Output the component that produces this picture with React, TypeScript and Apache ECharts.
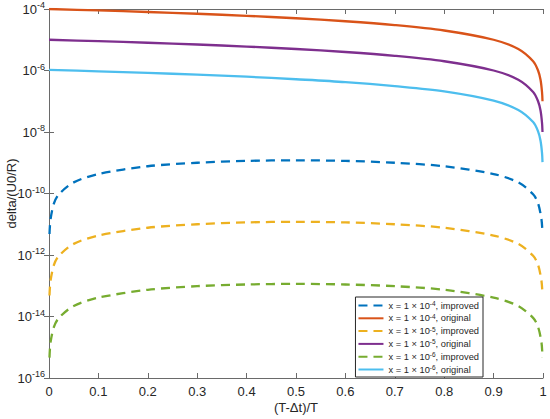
import React, { useEffect, useRef } from "react";
import * as echarts from "echarts";

// t = (T-Δt)/T sample points
const tImproved = [0.001, 0.003, 0.01, 0.02, 0.05, 0.1, 0.2, 0.3, 0.4, 0.5, 0.6, 0.7, 0.8, 0.9, 0.95, 0.98, 0.99, 0.997, 0.999];
const imp4 = [4.8e-12, 1.4e-11, 4.8e-11, 9.4e-11, 2.3e-10, 4.3e-10, 7.7e-10, 1.0e-9, 1.15e-9, 1.2e-9, 1.15e-9, 1.0e-9, 7.7e-10, 4.3e-10, 2.3e-10, 9.4e-11, 4.8e-11, 1.4e-11, 4.8e-12];
const imp5 = [4.8e-14, 1.4e-13, 4.8e-13, 9.4e-13, 2.3e-12, 4.3e-12, 7.7e-12, 1.0e-11, 1.15e-11, 1.2e-11, 1.15e-11, 1.0e-11, 7.7e-12, 4.3e-12, 2.3e-12, 9.4e-13, 4.8e-13, 1.4e-13, 4.8e-14];
const imp6 = [4.6e-16, 1.4e-15, 4.6e-15, 9.0e-15, 2.2e-14, 4.1e-14, 7.4e-14, 9.7e-14, 1.1e-13, 1.15e-13, 1.1e-13, 9.7e-14, 7.4e-14, 4.1e-14, 2.2e-14, 9.0e-15, 4.6e-15, 1.4e-15, 4.6e-16];

const tOriginal = [0, 0.1, 0.2, 0.3, 0.4, 0.5, 0.6, 0.7, 0.8, 0.9, 0.95, 0.98, 0.99, 0.995, 0.998, 0.999];
const orig4 = [1e-4, 9e-5, 8e-5, 7e-5, 6e-5, 5e-5, 4e-5, 3e-5, 2e-5, 1e-5, 5e-6, 2e-6, 1e-6, 5e-7, 2e-7, 1e-7];
const orig5 = [1e-5, 9e-6, 8e-6, 7e-6, 6e-6, 5e-6, 4e-6, 3e-6, 2e-6, 1e-6, 5e-7, 2e-7, 1e-7, 5e-8, 2e-8, 1e-8];
const orig6 = [1.05e-6, 9.4e-7, 8.4e-7, 7.3e-7, 6.3e-7, 5.2e-7, 4.2e-7, 3.1e-7, 2.1e-7, 1.05e-7, 5.2e-8, 2.1e-8, 1.05e-8, 5.2e-9, 2.1e-9, 1.05e-9];

const xTicks = [0, 0.1, 0.2, 0.3, 0.4, 0.5, 0.6, 0.7, 0.8, 0.9, 1];
const yMin = 1e-16;
const yMax = 1e-4;

const seriesNames = [
  "x = 1 × 10^-4, improved",
  "x = 1 × 10^-4, original",
  "x = 1 × 10^-5, improved",
  "x = 1 × 10^-5, original",
  "x = 1 × 10^-6, improved",
  "x = 1 × 10^-6, original",
];
const colors = ["#0072BD", "#D95319", "#EDB120", "#7E2F8E", "#77AC30", "#4DBEEE"];

const FONT = "'Liberation Sans', Arial, sans-serif";
const TXT = "#262626";
const AX = "#6a6a6a";

function zip(xs: number[], ys: number[]) {
  return xs.map((x, i) => [x, ys[i]]);
}

export default function App() {
  const ref = useRef<HTMLDivElement>(null);
  useEffect(() => {
    if (!ref.current) return;
    const chart = echarts.init(ref.current, undefined, { renderer: "svg" });
    const datasets = [
      zip(tImproved, imp4),
      zip(tOriginal, orig4),
      zip(tImproved, imp5),
      zip(tOriginal, orig5),
      zip(tImproved, imp6),
      zip(tOriginal, orig6),
    ];
    const yLabelFmt = (v: number) => {
      const e = Math.round(Math.log10(v));
      return "{b|10}{s|" + e + "}";
    };
    const tickStyle = { inside: true, length: 5, lineStyle: { color: AX, width: 1 } };
    chart.setOption({
      animation: false,
      backgroundColor: "#ffffff",
      grid: {
        left: 49,
        right: 7,
        top: 9,
        bottom: 41,
        containLabel: false,
        outerBoundsMode: "none",
      },
      xAxis: [
        {
          type: "value",
          min: 0,
          max: 1,
          interval: 0.1,
          name: "(T-Δt)/T",
          nameLocation: "middle",
          nameGap: 23,
          nameMoveOverlap: false,
          nameTextStyle: { fontFamily: FONT, fontSize: 13, color: TXT },
          axisLine: { lineStyle: { color: AX, width: 1 } },
          axisTick: tickStyle,
          splitLine: { show: false },
          axisLabel: {
            margin: 7,
            fontFamily: FONT,
            fontSize: 13,
            color: TXT,
            formatter: (v: number) => {
              const m = xTicks.find((t) => Math.abs(t - v) < 1e-9);
              return m === undefined ? "" : String(m);
            },
          },
        },
        {
          type: "value",
          min: 0,
          max: 1,
          interval: 0.1,
          position: "top",
          axisLine: { show: true, onZero: false, lineStyle: { color: AX, width: 1 } },
          axisTick: tickStyle,
          axisLabel: { show: false },
          splitLine: { show: false },
        },
      ],
      yAxis: [
        {
          type: "log",
          logBase: 100,
          min: yMin,
          max: yMax,
          splitNumber: 6,
          name: "delta/(U0/R)",
          nameLocation: "middle",
          nameGap: 31,
          nameMoveOverlap: false,
          nameTextStyle: { fontFamily: FONT, fontSize: 13, color: TXT },
          axisLine: { show: true, lineStyle: { color: AX, width: 1 } },
          axisTick: tickStyle,
          splitLine: { show: false },
          minorTick: { show: false },
          axisLabel: {
            margin: 4,
            fontFamily: FONT,
            color: TXT,
            formatter: yLabelFmt,
            rich: {
              b: { fontFamily: FONT, fontSize: 13, color: TXT },
              s: { fontFamily: FONT, fontSize: 9, color: TXT, padding: [0, 0, 8, 0] },
            },
          },
        },
        {
          type: "log",
          logBase: 100,
          min: yMin,
          max: yMax,
          splitNumber: 6,
          position: "right",
          axisLine: { show: true, lineStyle: { color: AX, width: 1 } },
          axisTick: tickStyle,
          axisLabel: { show: false },
          splitLine: { show: false },
        },
      ],
      legend: {
        orient: "vertical",
        right: 67,
        bottom: 42,
        backgroundColor: "#ffffff",
        borderColor: "#262626",
        borderWidth: 1,
        borderRadius: 0,
        padding: [3, 4, 3, 2],
        itemGap: 2.8,
        itemWidth: 25,
        itemHeight: 11,
        itemStyle: { opacity: 0 },
        data: seriesNames,
        formatter: (name: string) => {
          const m = name.match(/^(.*10)\^(-\d)(.*)$/);
          if (!m) return name;
          return "{t|" + m[1] + "}{s|" + m[2] + "}{t|" + m[3] + "}";
        },
        textStyle: {
          fontFamily: FONT,
          fontSize: 9.3,
          color: TXT,
          rich: {
            t: { fontFamily: FONT, fontSize: 9.3, color: TXT },
            s: { fontFamily: FONT, fontSize: 6.5, color: TXT, padding: [0, 0, 4, 0] },
          },
        },
      },
      series: seriesNames.map((name, i) => ({
        name,
        type: "line",
        xAxisIndex: 0,
        yAxisIndex: 0,
        data: datasets[i],
        smooth: 0.3,
        symbol: "none",
        showSymbol: false,
        color: colors[i],
        lineStyle: {
          color: colors[i],
          width: 2.3,
          type: i % 2 === 0 ? [9, 6] : "solid",
        },
        z: 2,
      })),
    });
    return () => chart.dispose();
  }, []);
  return (
    <div
      ref={ref}
      style={{ position: "absolute", left: 0, top: 0, width: 550, height: 419 }}
    />
  );
}
